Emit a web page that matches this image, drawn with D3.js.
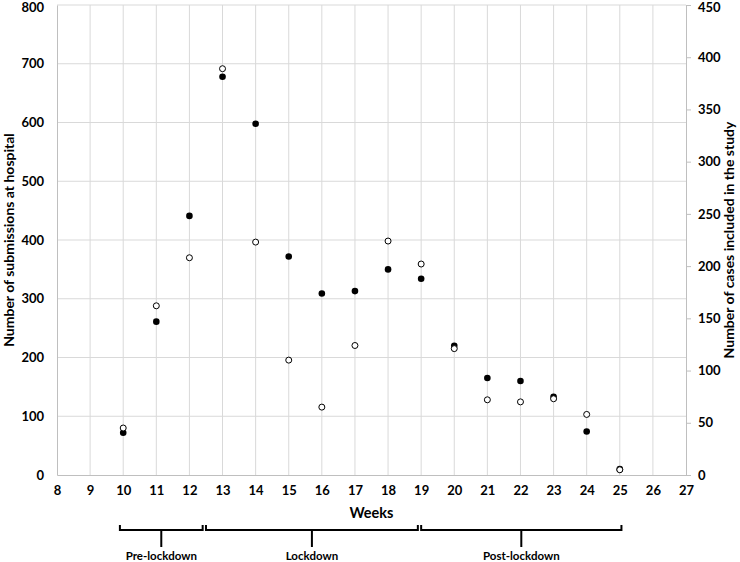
<!DOCTYPE html>
<html>
<head>
<meta charset="utf-8">
<script src="https://cdn.jsdelivr.net/npm/d3@7"></script>
<style>
	body { margin: 0; background: #fff; }
	svg text { font-family: Lato, "Open Sans", sans-serif; font-weight: bold; fill: #000; }
</style>
</head>
<body>
<div class="graphic"></div>
<script>
// weeks and series values
var weeks = [10, 11, 12, 13, 14, 15, 16, 17, 18, 19, 20, 21, 22, 23, 24, 25];
var submissions = [72, 261, 441, 678, 598, 372, 309, 313, 350, 334, 220, 165, 160, 133, 74, 10];
var cases = [45, 162, 208, 389, 223, 110, 65, 124, 224, 202, 121, 72, 70, 73, 58, 5];
var xTicks = d3.range(8, 28);
var leftTicks = [0, 100, 200, 300, 400, 500, 600, 700, 800];
var rightTicks = [0, 50, 100, 150, 200, 250, 300, 350, 400, 450];
var periods = ['Pre-lockdown', 'Lockdown', 'Post-lockdown'];
var periodStart = [9.9, 12.5, 19];
var periodEnd = [12.4, 18.9, 25.05];

var width = 740, height = 562;
var padding = { top: 5, right: 54, bottom: 87, left: 57 };

var svg = d3.select('.graphic').append('svg')
	.attr('width', width)
	.attr('height', height);

var x = d3.scaleLinear().domain([8, 27]).range([padding.left, width - padding.right]);
var yLeft = d3.scaleLinear().domain([0, 800]).range([height - padding.bottom, padding.top]);
var yRight = d3.scaleLinear().domain([0, 450]).range([height - padding.bottom, padding.top]);

var gridColor = '#d9d9d9';
var axisColor = '#bfbfbf';

// grid
svg.append('g').selectAll('line.h')
	.data(leftTicks.slice(1))
	.enter().append('line')
	.attr('x1', x(8)).attr('x2', x(27))
	.attr('y1', function (d) { return yLeft(d); })
	.attr('y2', function (d) { return yLeft(d); })
	.attr('stroke', gridColor).attr('stroke-width', 1);

svg.append('g').selectAll('line.v')
	.data(xTicks.slice(1, -1))
	.enter().append('line')
	.attr('x1', function (d) { return x(d); })
	.attr('x2', function (d) { return x(d); })
	.attr('y1', yLeft(800)).attr('y2', yLeft(0))
	.attr('stroke', gridColor).attr('stroke-width', 1);

// left axis
var leftAxis = svg.append('g')
	.attr('transform', 'translate(' + x(8) + ',0)')
	.call(d3.axisLeft(yLeft).tickValues(leftTicks).tickSize(0).tickPadding(13));
leftAxis.select('.domain').attr('stroke', axisColor);
leftAxis.selectAll('text').attr('font-size', 13);

// right axis
var rightAxis = svg.append('g')
	.attr('transform', 'translate(' + x(27) + ',0)')
	.call(d3.axisRight(yRight).tickValues(rightTicks).tickSize(5).tickPadding(7));
rightAxis.select('.domain').attr('stroke', axisColor);
rightAxis.selectAll('.tick line').attr('stroke', axisColor);
rightAxis.selectAll('text').attr('font-size', 13);

// keep the top tick labels inside the page
leftAxis.selectAll('.tick text').filter(function (d) { return d === 800; }).attr('y', 2);
rightAxis.selectAll('.tick text').filter(function (d) { return d === 450; }).attr('y', 2);

// bottom axis
var bottomAxis = svg.append('g')
	.attr('transform', 'translate(0,' + yLeft(0) + ')')
	.call(d3.axisBottom(x).tickValues(xTicks).tickSize(0).tickPadding(11).tickFormat(d3.format('d')));
bottomAxis.select('.domain').attr('stroke', axisColor);
bottomAxis.selectAll('text').attr('font-size', 13);

// axis titles
svg.append('text')
	.attr('transform', 'translate(14,' + (padding.top + yLeft(0)) / 2 + ') rotate(-90)')
	.attr('text-anchor', 'middle')
	.attr('font-size', 14)
	.text('Number of submissions at hospital');

svg.append('text')
	.attr('transform', 'translate(734,' + (padding.top + yLeft(0)) / 2 + ') rotate(-90)')
	.attr('text-anchor', 'middle')
	.attr('font-size', 14)
	.text('Number of cases included in the study');

svg.append('text')
	.attr('x', x(17.5)).attr('y', 518)
	.attr('text-anchor', 'middle')
	.attr('font-size', 14.5)
	.text('Weeks');

// points
svg.append('g').selectAll('circle')
	.data(weeks)
	.enter().append('circle')
	.attr('cx', function (d) { return x(d); })
	.attr('cy', function (d, i) { return yLeft(submissions[i]); })
	.attr('r', 3.3)
	.attr('fill', '#000');

svg.append('g').selectAll('circle')
	.data(weeks)
	.enter().append('circle')
	.attr('cx', function (d) { return x(d); })
	.attr('cy', function (d, i) { return yRight(cases[i]); })
	.attr('r', 3)
	.attr('fill', '#fff')
	.attr('stroke', '#000')
	.attr('stroke-width', 1);

// period brackets
var bracketY = 530, tipY = 525, stemY = 547;
var brackets = svg.append('g');
periods.forEach(function (label, i) {
	var x0 = x(periodStart[i]), x1 = x(periodEnd[i]), xm = (x0 + x1) / 2;
	brackets.append('path')
		.attr('d', 'M' + x0 + ',' + tipY + 'V' + bracketY + 'H' + x1 + 'V' + tipY +
			'M' + xm + ',' + bracketY + 'V' + stemY)
		.attr('fill', 'none')
		.attr('stroke', '#000')
		.attr('stroke-width', 2);
	brackets.append('text')
		.attr('x', xm).attr('y', 560)
		.attr('text-anchor', 'middle')
		.attr('font-size', 11.5)
		.text(label);
});
</script>
</body>
</html>
